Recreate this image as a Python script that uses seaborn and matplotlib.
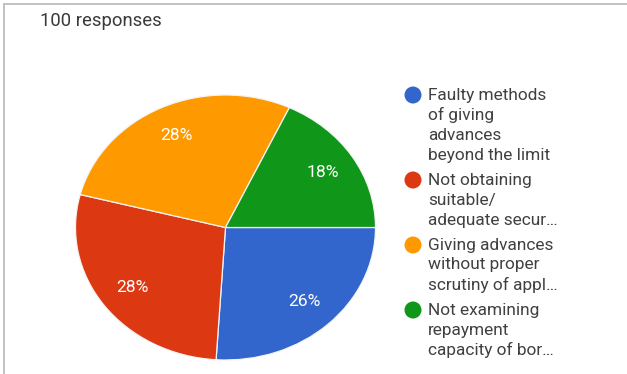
import matplotlib
matplotlib.use("Agg")
import matplotlib.pyplot as plt
import seaborn as sns

# Survey results
categories = [
    "Faulty methods\nof giving\nadvances\nbeyond the limit",
    "Not obtaining\nsuitable/\nadequate secur…",
    "Giving advances\nwithout proper\nscrutiny of appl…",
    "Not examining\nrepayment\ncapacity of bor…",
]
shares = [26, 28, 28, 18]
colors = sns.color_palette(["#3366cc", "#dc3912", "#ff9900", "#109618"])
title = "100 responses"

sns.set_theme(style="white")
plt.rcParams["font.family"] = ["Roboto", "DejaVu Sans"]

W, H = 627, 374
fig = plt.figure(figsize=(W / 100, H / 100), dpi=100)

# Pie axes: slightly wider than tall, so the pie is drawn as an ellipse
cx, cy, rx, ry = 225.5, 227.5, 150, 132.5
ax = fig.add_axes([(cx - rx) / W, 1 - (cy + ry) / H, 2 * rx / W, 2 * ry / H])
wedges, _, autotexts = ax.pie(
    shares,
    colors=colors,
    startangle=0,
    counterclock=False,
    autopct=lambda p: f"{p:.0f}%",
    pctdistance=0.77,
    wedgeprops=dict(edgecolor="#f4f4f4", linewidth=0.9),
    textprops=dict(color="white", fontsize=12.6),
)
ax.set_aspect("auto")
ax.set_xlim(-1, 1)
ax.set_ylim(-1, 1)
ax.axis("off")

# Overlay in pixel coordinates for title, legend and frame
ov = fig.add_axes([0, 0, 1, 1])
ov.set_xlim(0, W)
ov.set_ylim(H, 0)
ov.axis("off")

ov.plot([4, 4], [4, H], color="#bdbdbd", lw=1.3)
ov.plot([4, W], [4, 4], color="#bdbdbd", lw=1.3)

ov.text(40, 21, title, fontsize=13.3, color="#3a3a3a", va="center", ha="left")

line_h = 20
group_gap = 25
y = 95
for label, col in zip(categories, colors):
    lines = label.split("\n")
    ov.scatter([413], [y], s=150, color=col, edgecolors="none")
    for i, ln in enumerate(lines):
        ov.text(428, y + i * line_h, ln, fontsize=12.4, color="#404040",
                va="center", ha="left")
    y += (len(lines) - 1) * line_h + group_gap

fig.savefig("out.png", dpi=100)
